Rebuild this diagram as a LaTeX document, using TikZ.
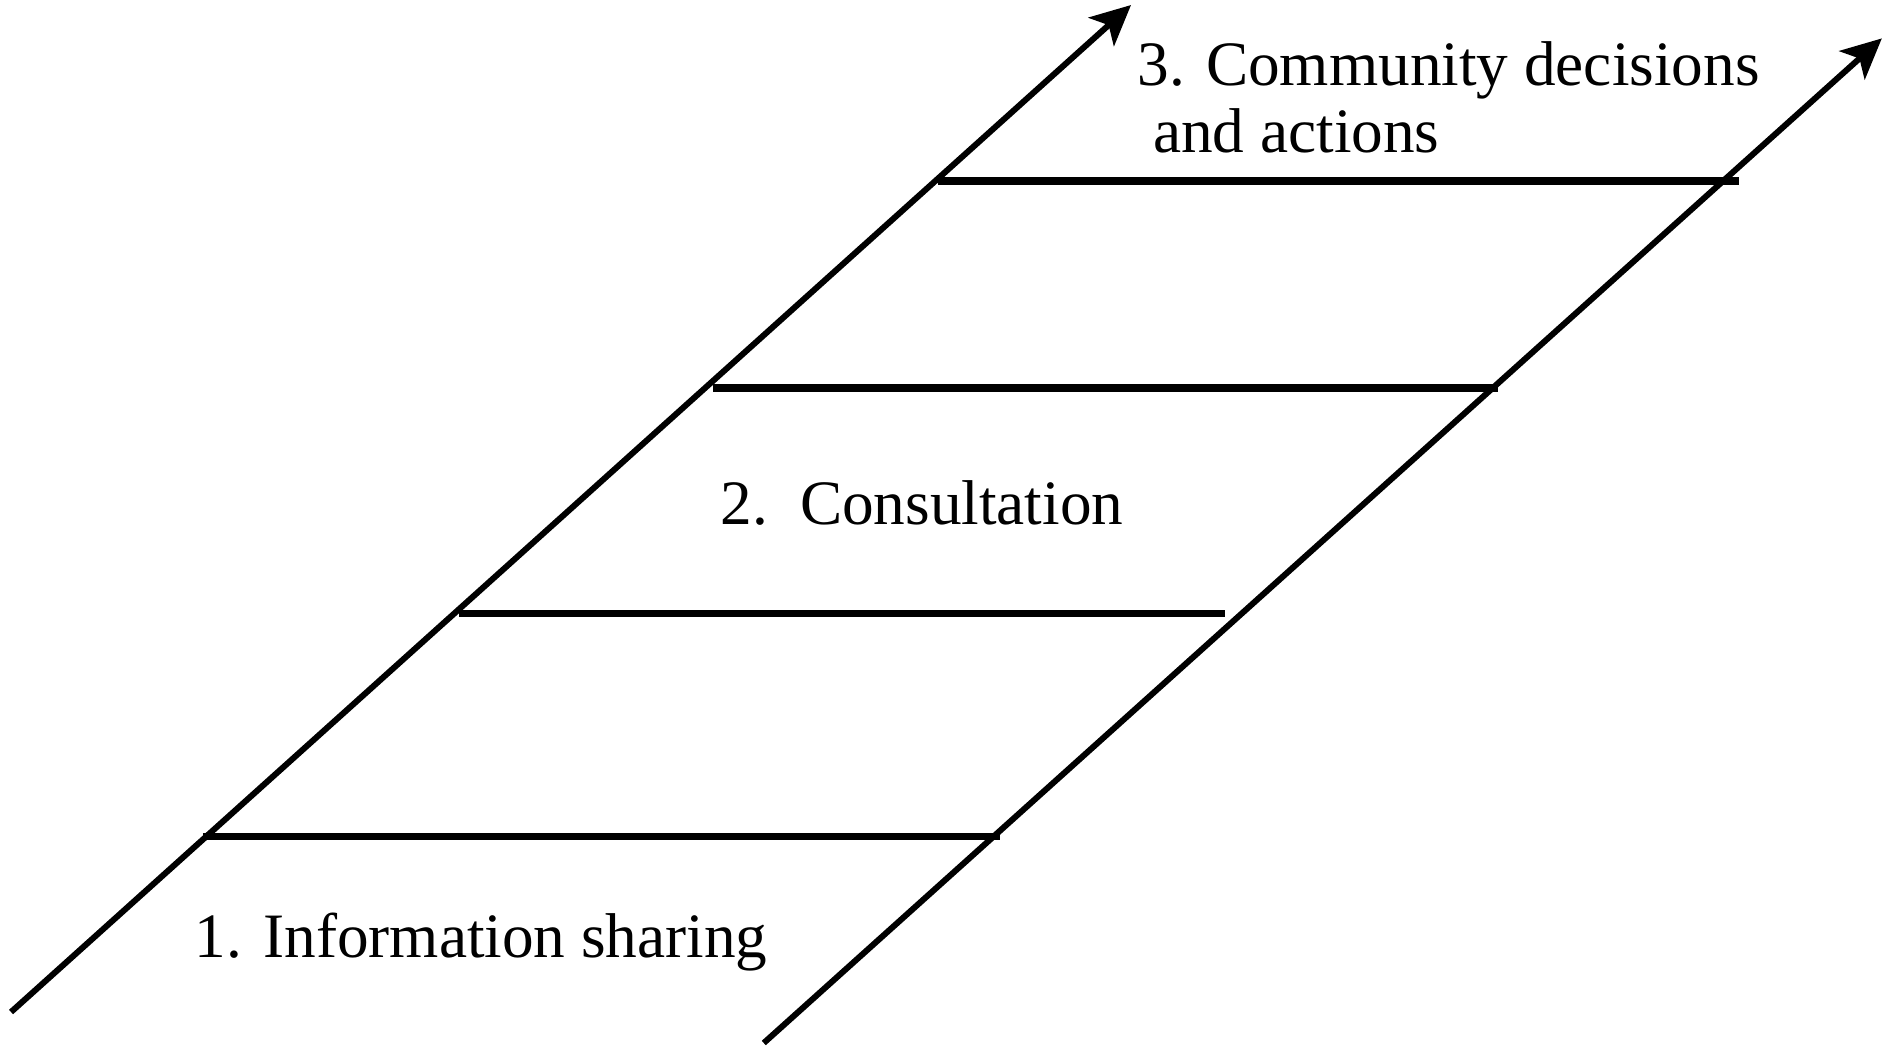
\documentclass[tikz,border=0pt]{standalone}
\usepackage{fontspec}
\setmainfont{Liberation Serif}
\usetikzlibrary{arrows.meta}
\tikzstyle{rail}=[line width=3pt, -{Stealth[length=20pt, width=19pt, inset=5pt]}]
\tikzstyle{rung}=[line width=3.8pt]
\tikzstyle{step label}=[anchor=base west, inner sep=0pt, font=\fontsize{31.6}{38}\selectfont]

\begin{document}
\begin{tikzpicture}[x=60pt, y=60pt]
        \useasboundingbox (0, 0) rectangle (15.68, 8.71);
        % the two rails
        \coordinate (L0) at (0.092, 0.283);
        \coordinate (L1) at (9.418, 8.668);
        \coordinate (R0) at (6.36, 0.025);
        \coordinate (R1) at (15.67, 8.39);
        \draw[rail] (L0) -- (L1);
        \draw[rail] (R0) -- (R1);
        % rungs
        \coordinate (A0) at (1.69, 1.745);
        \coordinate (A1) at (8.33, 1.745);
        \coordinate (B0) at (3.82, 3.60);
        \coordinate (B1) at (10.20, 3.60);
        \coordinate (C0) at (5.94, 5.48);
        \coordinate (C1) at (12.47, 5.48);
        \coordinate (D0) at (7.81, 7.203);
        \coordinate (D1) at (14.48, 7.203);
        \draw[rung] (A0) -- (A1);
        \draw[rung] (B0) -- (B1);
        \draw[rung] (C0) -- (C1);
        \draw[rung] (D0) -- (D1);
        % labels
        \node[step label] (info) at (1.62, 0.74) {1. Information sharing};
        \node[step label] (consult) at (6.00, 4.34) {2.\ \ Consultation};
        \node[step label] (commA) at (9.47, 8.00) {3. Community decisions};
        \node[step label] (commB) at (9.60, 7.44) {and actions};
    \end{tikzpicture}
\end{document}
